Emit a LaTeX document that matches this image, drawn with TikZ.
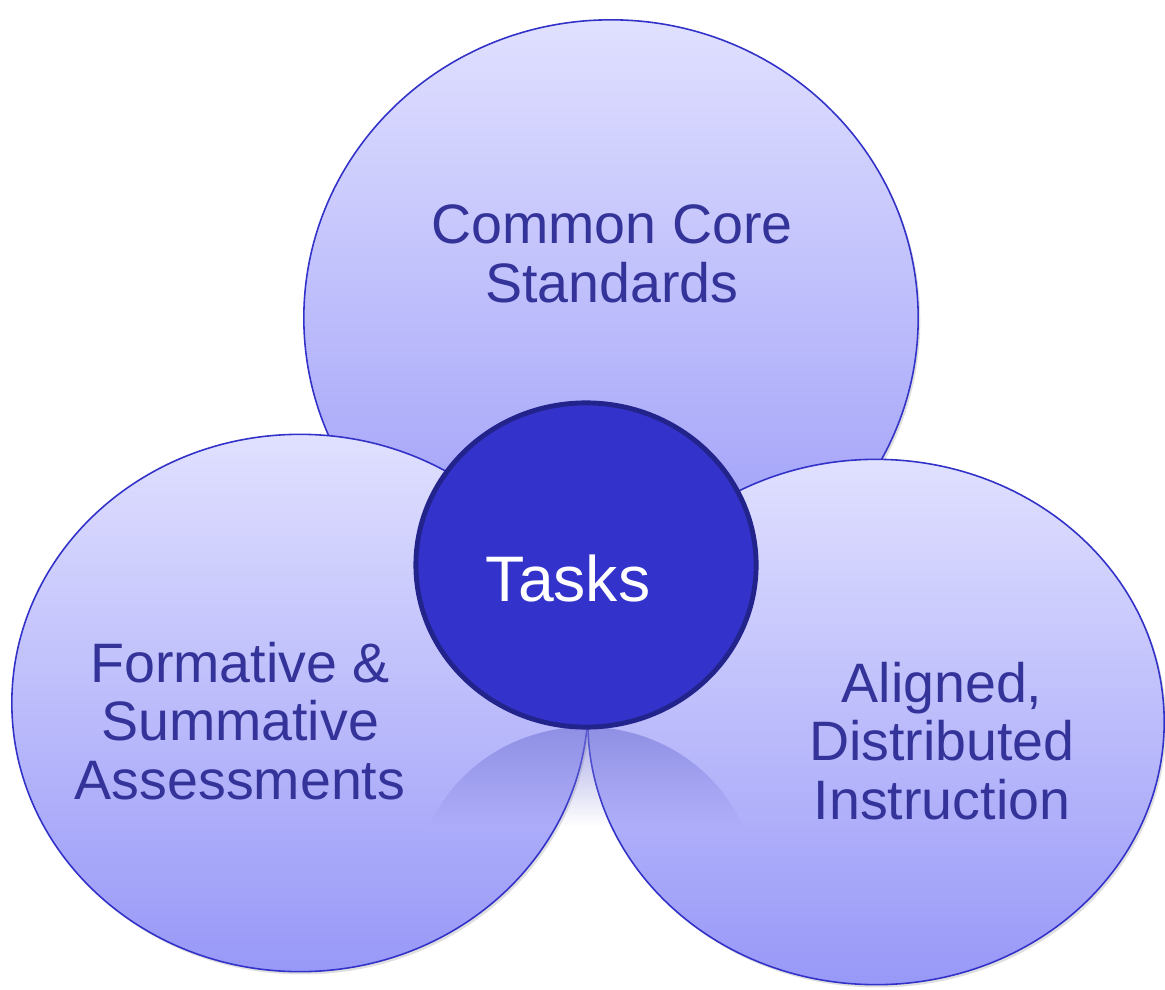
\documentclass[tikz,border=0pt]{standalone}
\usepackage{fontspec}
\setmainfont{Liberation Sans}
\usetikzlibrary{shapes.geometric,fadings,shadows}
\definecolor{bubtop}{HTML}{E0E0FF}
\definecolor{bubbot}{HTML}{9898F8}
\definecolor{bubline}{HTML}{3232C8}
\definecolor{taskfill}{HTML}{3333CC}
\definecolor{taskline}{HTML}{23238C}
\definecolor{labelcol}{HTML}{333399}
\definecolor{reflcol}{HTML}{7878D8}
\tikzfading[name=refldown, top color=transparent!35, bottom color=transparent!100]
\tikzset{
  bubble/.style={ellipse, inner sep=0pt, draw=bubline, line width=0.45pt,
    top color=bubtop, bottom color=bubbot,
    drop shadow={opacity=0.25, shadow xshift=0.6pt, shadow yshift=-0.8pt}},
  taskbubble/.style={ellipse, inner sep=0pt, draw=taskline, line width=1.4pt, fill=taskfill},
  label/.style={text=labelcol, align=center, font=\fontsize{15.8}{16.6}\selectfont},
}
\begin{document}
\begin{tikzpicture}[x=0.01cm, y=-0.01cm]
\useasboundingbox (0,0) rectangle (1165,989);
\node[bubble, minimum width=6.14cm, minimum height=5.96cm] (top) at (611,318) {};
\node[bubble, minimum width=5.76cm, minimum height=5.37cm] (left) at (300,703) {};
\node[bubble, minimum width=5.76cm, minimum height=5.25cm] (right) at (876,722) {};
% reflection of the central circle
\begin{scope}
  \clip (586,889) ellipse [x radius=1.70cm, y radius=1.62cm];
  \fill[reflcol, path fading=refldown] (410,727) rectangle (762,826);
\end{scope}
\node[taskbubble, minimum width=3.40cm, minimum height=3.24cm] (tasks) at (586,565) {};
\node[text=white, font=\fontsize{18.3}{19}\selectfont] (tasklabel) at (568,578) {Tasks};
\node[label] (ccs) at (612,254) {Common Core\\Standards};
\node[label] (fsa) at (240,721) {Formative \&\\Summative\\Assessments};
\node[label] (adi) at (942,741) {Aligned,\\Distributed\\Instruction};
\end{tikzpicture}
\end{document}
